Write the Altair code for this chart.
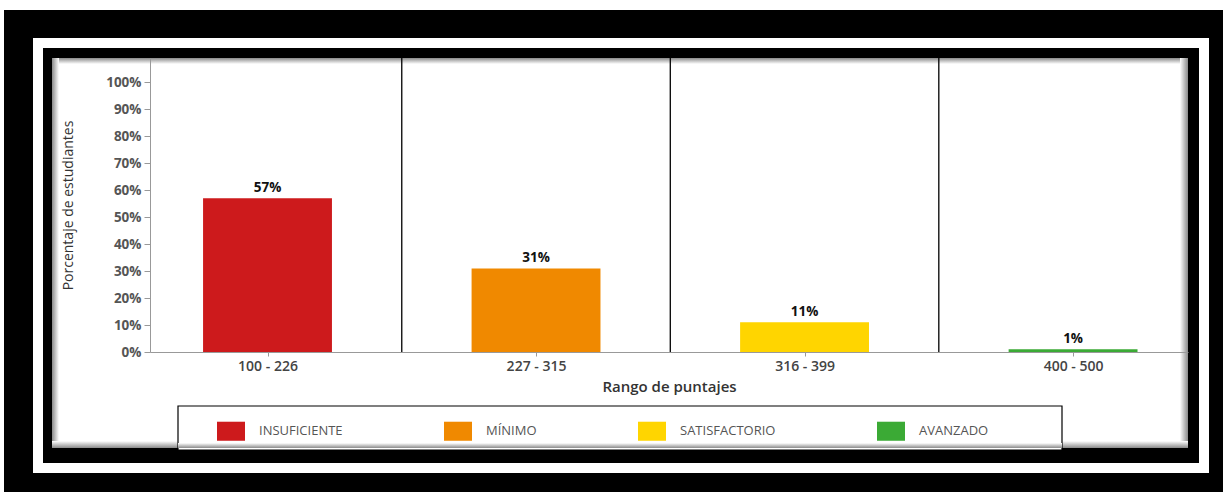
import altair as alt
import pandas as pd

# ---- data ----
ranges = ["100 - 226", "227 - 315", "316 - 399", "400 - 500"]
levels = ["INSUFICIENTE", "MÍNIMO", "SATISFACTORIO", "AVANZADO"]
percents = [57, 31, 11, 1]
colors = ["#CD1A1C", "#F08900", "#FFD500", "#3BAA35"]
y_ticks = [0, 10, 20, 30, 40, 50, 60, 70, 80, 90, 100]

df = pd.DataFrame({
    "idx": list(range(len(ranges))),
    "rango": ranges,
    "nivel": levels,
    "pct": [p / 100 for p in percents],
    "etiqueta": [f"{p}%" for p in percents],
})
seps = pd.DataFrame({"sep": [i + 0.5 for i in range(len(ranges) - 1)]})
one = pd.DataFrame({"k": [0]})

W, H = 1038, 294
FONT = "Open Sans"

xscale = alt.Scale(domain=[-0.4376, 3.428], nice=False, zero=False)
yscale = alt.Scale(domain=[0, 1.09], nice=False)

label_expr = "[" + ",".join(f"'{r}'" for r in ranges) + "][datum.value]"

x_axis = alt.Axis(
    values=list(range(len(ranges))), labelExpr=label_expr, title="Rango de puntajes",
    grid=False, domainColor="#999999", tickColor="#999999", tickSize=4,
    labelFont=FONT, labelFontSize=14, labelFontWeight=600, labelColor="#444444", labelPadding=3,
    titleFont=FONT, titleFontSize=15, titleFontWeight=600, titleColor="#333333", titlePadding=6,
    labelOverlap=False, zindex=2,
)
y_axis = alt.Axis(
    values=[v / 100 for v in y_ticks], format=".0%", title="Porcentaje de estudiantes",
    grid=False, domainColor="#999999", tickColor="#999999", tickSize=6,
    labelFont=FONT, labelFontSize=13.5, labelFontWeight="bold", labelColor="#555555", labelPadding=3,
    titleFont=FONT, titleFontSize=14, titleFontWeight="normal", titleColor="#333333", titlePadding=30,
    labelOverlap=False, zindex=2,
)

def frame(x, x2, y, y2, fill, stroke=None):
    kw = dict(fill=fill)
    if stroke:
        kw.update(stroke=stroke, strokeWidth=1.2)
    return alt.Chart(one).mark_rect(**kw).encode(
        x=alt.value(x), x2=alt.value(x2), y=alt.value(y), y2=alt.value(y2)
    )

def shade(x1, x2, y1, y2):
    return alt.Gradient(
        gradient="linear",
        stops=[alt.GradientStop(color="#8a8a8a", offset=0),
               alt.GradientStop(color="#ffffff", offset=1)],
        x1=x1, x2=x2, y1=y1, y2=y2,
    )

frames = [
    frame(-146, 1073, -48, 434, "#000000"),
    frame(-117, 1059, -20, 415, "#ffffff"),
    frame(-107, 1049, -10, 405, "#000000"),
    frame(-98, 1038, 0, 390, "#ffffff"),
    # soft inner shadow along the edges of the white panel
    frame(-98, 1038, 0, 6, shade(0, 0, 0, 1)),
    frame(-98, -91, 0, 390, shade(0, 1, 0, 0)),
    frame(1030, 1038, 0, 390, shade(1, 0, 0, 0)),
    frame(-98, 1038, 383, 390, shade(0, 0, 1, 0)),
    frame(28, 912, 348, 392, "#ffffff", "#000000"),
    frame(28, 912, 385, 390, shade(0, 0, 1, 0)),
]

rules = alt.Chart(seps).mark_rule(color="#000000", strokeWidth=1.3).encode(
    x=alt.X("sep:Q", scale=xscale, axis=x_axis)
)

bars = alt.Chart(df).transform_calculate(
    x0="datum.idx - 0.24", x1="datum.idx + 0.24"
).mark_rect().encode(
    x=alt.X("x0:Q", scale=xscale, axis=x_axis),
    x2="x1:Q",
    y=alt.Y("pct:Q", scale=yscale, axis=y_axis),
    y2=alt.datum(0),
    color=alt.Color(
        "nivel:N",
        scale=alt.Scale(domain=levels, range=colors),
        legend=alt.Legend(
            title=None, orient="none", legendX=67, legendY=359, direction="horizontal",
            columns=4, symbolType="M-1,-0.68H1V0.68H-1Z", symbolSize=784,
            symbolStrokeWidth=0, labelFont=FONT, labelFontSize=13, labelColor="#555555",
            labelOffset=14, columnPadding=101, padding=0, labelLimit=300, zindex=2,
        ),
    ),
)

texts = alt.Chart(df).mark_text(
    dy=-10, font=FONT, fontSize=13.5, fontWeight="bold", color="#111111"
).encode(
    x=alt.X("idx:Q", scale=xscale, axis=x_axis),
    y=alt.Y("pct:Q", scale=yscale, axis=y_axis),
    text="etiqueta:N",
)

chart = alt.layer(*frames, rules, bars, texts).properties(
    width=W, height=H,
    autosize=alt.AutoSizeParams(type="none"),
    padding={"left": 150, "top": 58, "right": 37, "bottom": 140},
    background="#ffffff",
).configure_view(stroke=None)

chart.save("out.html", embed_options={"renderer": "svg", "actions": False})
